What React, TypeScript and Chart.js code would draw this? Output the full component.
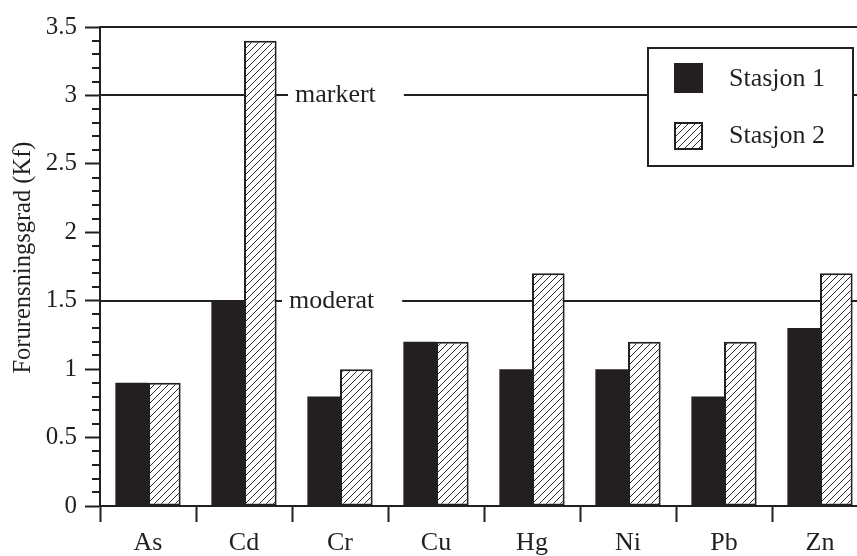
import React, { useEffect, useRef } from 'react';
import { Chart, registerables } from 'chart.js';

Chart.register(...registerables);

const categories = ['As', 'Cd', 'Cr', 'Cu', 'Hg', 'Ni', 'Pb', 'Zn'];
const station1 = [0.9, 1.5, 0.8, 1.2, 1.0, 1.0, 0.8, 1.3];
const station2 = [0.9, 3.4, 1.0, 1.2, 1.7, 1.2, 1.2, 1.7];
const seriesLabels = ['Stasjon 1', 'Stasjon 2'];
const refValues = [3, 1.5];
const refLabels = ['markert', 'moderat'];
const yMin = 0;
const yMax = 3.5;
const yMajorStep = 0.5;
const yMinorStep = 0.1;
const yTitle = 'Forurensningsgrad (Kf)';

const INK = '#231f20';
const FAMILY = "'Liberation Serif', 'Times New Roman', serif";
const FONT_SIZE = 26;
const TICK_SIZE = 25;
const TITLE_SIZE = 24.5;

function makeHatch(): CanvasPattern | string {
  const c = document.createElement('canvas');
  const s = 7;
  c.width = s;
  c.height = s;
  const g = c.getContext('2d');
  if (!g) return '#fff';
  g.fillStyle = '#ffffff';
  g.fillRect(0, 0, s, s);
  g.strokeStyle = '#2e2e2e';
  g.lineWidth = 1;
  g.beginPath();
  g.moveTo(0, s);
  g.lineTo(s, 0);
  g.moveTo(-1, 1);
  g.lineTo(1, -1);
  g.moveTo(s - 1, s + 1);
  g.lineTo(s + 1, s - 1);
  g.stroke();
  const p = g.createPattern(c, 'repeat');
  return p || '#fff';
}

export default function App() {
  const ref = useRef<HTMLCanvasElement | null>(null);

  useEffect(() => {
    const canvas = ref.current;
    if (!canvas) return;
    const hatch = makeHatch();

    const refLinesPlugin = {
      id: 'refLines',
      beforeDatasetsDraw(chart: any) {
        const { ctx, chartArea, scales } = chart;
        const x = scales.x;
        const y = scales.y;
        ctx.save();
        ctx.font = `${FONT_SIZE}px ${FAMILY}`;
        ctx.strokeStyle = INK;
        ctx.fillStyle = INK;
        ctx.lineWidth = 2;
        ctx.textBaseline = 'alphabetic';
        ctx.textAlign = 'left';
        refValues.forEach((v, i) => {
          const py = Math.round(y.getPixelForValue(v));
          const textX = x.getPixelForValue(1) + (i === 0 ? 51 : 45);
          const w = ctx.measureText(refLabels[i]).width;
          ctx.beginPath();
          ctx.moveTo(chartArea.left, py);
          ctx.lineTo(textX - 7, py);
          ctx.moveTo(textX + w + 28, py);
          ctx.lineTo(chartArea.right, py);
          ctx.stroke();
          ctx.fillText(refLabels[i], textX, py + 7);
        });
        ctx.restore();
      },
    };

    const framePlugin = {
      id: 'frame',
      afterDraw(chart: any) {
        const { ctx, chartArea, scales } = chart;
        const y = scales.y;
        ctx.save();
        ctx.strokeStyle = INK;
        ctx.lineWidth = 2;
        // top border
        ctx.beginPath();
        ctx.moveTo(chartArea.left - 1, chartArea.top);
        ctx.lineTo(chartArea.right, chartArea.top);
        ctx.stroke();
        // minor ticks
        const n = Math.round((yMax - yMin) / yMinorStep);
        const per = Math.round(yMajorStep / yMinorStep);
        ctx.beginPath();
        for (let i = 0; i <= n; i++) {
          if (i % per === 0) continue;
          const py = Math.round(y.getPixelForValue(yMin + i * yMinorStep));
          ctx.moveTo(chartArea.left - 8, py);
          ctx.lineTo(chartArea.left, py);
        }
        ctx.stroke();

        // y-axis title
        ctx.save();
        ctx.fillStyle = INK;
        ctx.font = `${TITLE_SIZE}px ${FAMILY}`;
        ctx.textAlign = 'center';
        ctx.textBaseline = 'middle';
        ctx.translate(24, (chartArea.top + chartArea.bottom) / 2 - 9);
        ctx.rotate(-Math.PI / 2);
        ctx.fillText(yTitle, 0, 0);
        ctx.restore();

        // legend
        const bx = chartArea.right - 15 - 205;
        const by = chartArea.top + 21;
        const bw = 205;
        const bh = 118;
        ctx.fillStyle = '#ffffff';
        ctx.fillRect(bx, by, bw, bh);
        ctx.strokeRect(bx, by, bw, bh);
        ctx.font = `${FONT_SIZE}px ${FAMILY}`;
        ctx.textBaseline = 'alphabetic';
        ctx.textAlign = 'left';
        const rows = [
          { sy: by + 15, base: by + 38 },
          { sy: by + 74, base: by + 95 },
        ];
        chart.data.datasets.forEach((ds: any, i: number) => {
          const r = rows[i];
          if (!r) return;
          const sx = bx + 26;
          ctx.fillStyle = ds.backgroundColor;
          ctx.fillRect(sx, r.sy, 29, i === 0 ? 30 : 28);
          if (i === 1) {
            ctx.lineWidth = 2;
            ctx.strokeStyle = INK;
            ctx.strokeRect(sx + 1, r.sy + 1, 27, 26);
          }
          ctx.fillStyle = INK;
          ctx.fillText(ds.label, bx + 81, r.base);
        });
        ctx.restore();
      },
    };

    const chart = new Chart(canvas, {
      type: 'bar',
      data: {
        labels: categories,
        datasets: [
          {
            label: seriesLabels[0],
            data: station1,
            backgroundColor: INK,
            borderWidth: 0,
            categoryPercentage: 0.68,
            barPercentage: 1.0,
          },
          {
            label: seriesLabels[1],
            data: station2,
            backgroundColor: hatch as any,
            borderColor: INK,
            borderWidth: 2,
            borderSkipped: false,
            categoryPercentage: 0.68,
            barPercentage: 1.0,
          },
        ],
      },
      options: {
        responsive: false,
        animation: false,
        devicePixelRatio: 1,
        layout: { padding: { top: 27, right: 12, left: 0, bottom: 0 } },
        plugins: {
          legend: { display: false },
          tooltip: { enabled: false },
        },
        scales: {
          x: {
            type: 'category',
            offset: true,
            grid: {
              offset: true,
              drawOnChartArea: false,
              drawTicks: true,
              tickLength: 16,
              tickWidth: 2,
              tickColor: INK,
              color: INK,
            },
            border: { display: true, color: INK, width: 2 },
            ticks: {
              color: INK,
              font: { family: FAMILY, size: FONT_SIZE },
              padding: 6,
              maxRotation: 0,
            },
            afterFit(scale: any) {
              scale.height = 50;
            },
          },
          y: {
            min: yMin,
            max: yMax,
            grid: {
              drawOnChartArea: false,
              drawTicks: true,
              tickLength: 15,
              tickWidth: 2,
              tickColor: INK,
              color: INK,
            },
            border: { display: true, color: INK, width: 2 },
            ticks: {
              stepSize: yMajorStep,
              color: INK,
              font: { family: FAMILY, size: TICK_SIZE },
              padding: 8,
              callback: (v: any) => String(Number(v)),
            },
            title: { display: false },
            afterFit(scale: any) {
              scale.width = 100;
            },
          },
        },
      },
      plugins: [refLinesPlugin, framePlugin],
    });

    return () => chart.destroy();
  }, []);

  return (
    <div
      style={{
        position: 'fixed',
        left: 0,
        top: 0,
        width: 857,
        height: 556,
        overflow: 'hidden',
        background: '#ffffff',
      }}
    >
      <canvas ref={ref} width={880} height={556} style={{ display: 'block' }} />
    </div>
  );
}
